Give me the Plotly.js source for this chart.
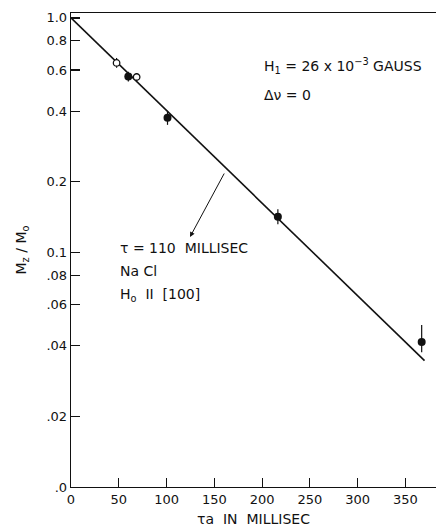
<!DOCTYPE html>
<html>
<head>
<meta charset="utf-8">
<script src="https://cdn.plot.ly/plotly-3.0.1.min.js"></script>
<style>html,body{margin:0;padding:0;background:#fff;}#chart{width:436px;height:527px;}</style>
</head>
<body>
<div id="chart"></div>
<script>
// Data
const openX = [47.7, 68.7];
const openY = [0.643, 0.56];
const openErrPlus = [0.032, 0.022];
const openErrMinus = [0.030, 0.021];

const filledX = [60, 101, 216.5, 367];
const filledY = [0.562, 0.375, 0.142, 0.0415];
const filledErrPlus = [0.028, 0.027, 0.011, 0.0075];
const filledErrMinus = [0.026, 0.025, 0.010, 0.004];

const fitX = [0, 370];
const fitY = [1.0, 0.0346];

const xTickVals = [0, 50, 100, 150, 200, 250, 300, 350];
const xTickText = ['0', '50', '100', '150', '200', '250', '300', '350'];
const yTickVals = [1.0, 0.8, 0.6, 0.4, 0.2, 0.1, 0.08, 0.06, 0.04, 0.02, 0.01];
const yTickText = ['1.0', '0.8', '0.6', '0.4', '0.2', '0.1', '.08', '.06', '.04', '.02', '.0'];

const FONT = 'DejaVu Sans, Arial, sans-serif';

const traces = [
  {x: fitX, y: fitY, mode: 'lines', line: {color: '#111', width: 1.6}, hoverinfo: 'skip'},
  {x: filledX, y: filledY, mode: 'markers',
   marker: {color: '#111', size: 8, symbol: 'circle'},
   error_y: {type: 'data', symmetric: false, array: filledErrPlus, arrayminus: filledErrMinus,
             color: '#111', thickness: 1.2, width: 0}},
  {x: openX, y: openY, mode: 'markers',
   marker: {color: '#fff', size: 6.5, symbol: 'circle', line: {color: '#111', width: 1.3}},
   error_y: {type: 'data', symmetric: false, array: openErrPlus, arrayminus: openErrMinus,
             color: '#111', thickness: 1.2, width: 0}}
];

const W = 436, H = 527, L = 71, R = 0, T = 13, B = 40;
const pw = W - L - R, ph = H - T - B;
function px(x) { return (x - L) / pw; }
function py(y) { return (H - B - y) / ph; }

const txt = (text, x, y, size) => ({
  text: text, xref: 'paper', yref: 'paper', x: px(x), y: py(y),
  xanchor: 'left', yanchor: 'middle', showarrow: false,
  font: {family: FONT, size: size || 14, color: '#111'}
});

const layout = {
  width: W, height: H,
  margin: {l: L, r: R, t: T, b: B},
  paper_bgcolor: '#fff', plot_bgcolor: '#fff',
  showlegend: false,
  font: {family: FONT, size: 13, color: '#111'},
  xaxis: {
    range: [0, 382], tickvals: xTickVals, ticktext: xTickText,
    ticks: 'inside', ticklen: 9, tickwidth: 1.2, tickcolor: '#111',
    showline: true, linecolor: '#111', linewidth: 1.3, mirror: true,
    showgrid: false, zeroline: false,
    tickfont: {family: FONT, size: 13, color: '#111'},
    title: {text: 'τa  IN  MILLISEC', font: {family: FONT, size: 14, color: '#111'}, standoff: 8}
  },
  yaxis: {
    type: 'log', range: [-2.0, 0.021],
    tickvals: yTickVals, ticktext: yTickText,
    ticks: 'inside', ticklen: 9, tickwidth: 1.2, tickcolor: '#111',
    showline: true, linecolor: '#111', linewidth: 1.3,
    showgrid: false, zeroline: false,
    tickfont: {family: FONT, size: 13, color: '#111'},
    title: {text: 'M<sub>z</sub> / M<sub>o</sub>', font: {family: FONT, size: 14, color: '#111'}, standoff: 16}
  },
  annotations: [
    txt('H<sub>1</sub> = 26 x 10<sup>−3</sup> GAUSS', 262, 66),
    txt('Δν = 0', 262, 95),
    txt('τ = 110  MILLISEC', 118, 248),
    txt('Na Cl', 118, 271),
    txt('H<sub>o</sub>  II  [100]', 118, 295),
    {text: '', xref: 'paper', yref: 'paper', x: px(190), y: py(237),
     showarrow: true, ax: 35, ay: -65, arrowhead: 2, arrowsize: 1, arrowwidth: 1, arrowcolor: '#111'}
  ]
};

Plotly.newPlot('chart', traces, layout, {displayModeBar: false, staticPlot: true});
</script>
</body>
</html>
